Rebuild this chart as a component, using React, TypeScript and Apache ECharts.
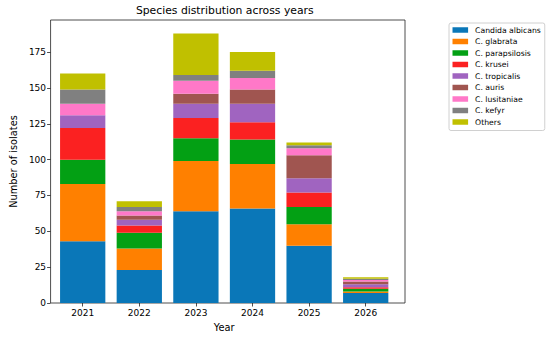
import React, { useEffect, useRef } from "react";
import * as echarts from "echarts";

const years = ["2021", "2022", "2023", "2024", "2025", "2026"];
const speciesNames = [
  "Candida albicans",
  "C. glabrata",
  "C. parapsilosis",
  "C. krusei",
  "C. tropicalis",
  "C. auris",
  "C. lusitaniae",
  "C. kefyr",
  "Others",
];
const albicans = [43, 23, 64, 66, 40, 7];
const glabrata = [40, 15, 35, 31, 15, 1];
const parapsilosis = [17, 11, 16, 17, 12, 2];
const krusei = [22, 5, 14, 12, 10, 1];
const tropicalis = [9, 4, 10, 13, 10, 2];
const auris = [0, 3, 7, 10, 16, 2];
const lusitaniae = [8, 3, 9, 8, 5, 1];
const kefyr = [10, 3, 4, 5, 2, 1];
const others = [11, 4, 29, 13, 2, 1];
const yTicks = [0, 25, 50, 75, 100, 125, 150, 175];
const colors = [
  "#0a77b8",
  "#ff8000",
  "#03a014",
  "#fb2121",
  "#a064c0",
  "#a05550",
  "#ff78c8",
  "#808080",
  "#c0c000",
];

const FONT = "DejaVu Sans";

export default function App() {
  const ref = useRef<HTMLDivElement>(null);
  useEffect(() => {
    if (!ref.current) return;
    const chart = echarts.init(ref.current, undefined, { renderer: "svg" });
    const seriesData = [albicans, glabrata, parapsilosis, krusei, tropicalis, auris, lusitaniae, kefyr, others];
    const totals = years.map((_, i) => seriesData.reduce((s, arr) => s + arr[i], 0));
    const yMax = Math.max(...totals) * 1.05;
    const left0 = 44.5;
    const right0 = 405;
    const band = 56.6;
    const center0 = 82.7;
    const left1 = center0 - band / 2;
    const top = 20;
    const bottom = 303;
    chart.setOption({
      animation: false,
      textStyle: { fontFamily: FONT },
      graphic: [
        {
          type: "text",
          x: (left0 + right0) / 2,
          y: 5,
          style: {
            text: "Species distribution across years",
            textAlign: "center",
            textVerticalAlign: "top",
            fontSize: 10.8,
            fontFamily: FONT,
            fill: "#000",
          },
        },
      ],
      legend: {
        orient: "vertical",
        left: 449,
        top: 23,
        padding: [1.5, 4, 3, 3.5],
        itemWidth: 15.6,
        itemHeight: 5.5,
        itemGap: 0.5,
        icon: "rect",
        borderColor: "#d0d0d0",
        borderWidth: 1,
        borderRadius: 2,
        backgroundColor: "#fff",
        textStyle: { fontSize: 7.7, lineHeight: 11, color: "#000", fontFamily: FONT, padding: [0, 0, 0, 2] },
        data: speciesNames,
      },
      grid: [
        {
          left: left0,
          width: right0 - left0,
          top: top,
          height: bottom - top,
          show: true,
          borderColor: "#222",
          borderWidth: 0.8,
          backgroundColor: "transparent",
        },
        {
          left: left1,
          width: band * years.length,
          top: top,
          height: bottom - top,
        },
      ],
      xAxis: [
        {
          gridIndex: 0,
          type: "value",
          min: 0,
          max: 1,
          axisLine: { show: false },
          axisTick: { show: false },
          axisLabel: { show: false },
          splitLine: { show: false },
        },
        {
          gridIndex: 1,
          type: "category",
          data: years,
          axisLine: { show: false },
          axisTick: { show: true, alignWithLabel: true, length: 3.5, lineStyle: { color: "#222", width: 0.8 } },
          axisLabel: { fontSize: 9, color: "#000", margin: 5.5, fontFamily: FONT },
          name: "Year",
          nameLocation: "middle",
          nameGap: 19,
          nameTextStyle: { fontSize: 9.8, color: "#000", fontFamily: FONT },
        },
      ],
      yAxis: [
        {
          gridIndex: 0,
          type: "value",
          min: 0,
          max: yMax,
          interval: 25,
          axisLine: { show: false },
          axisTick: { show: true, length: 3.5, customValues: yTicks, lineStyle: { color: "#222", width: 0.8 } },
          axisLabel: { fontSize: 9, color: "#000", margin: 4.5, customValues: yTicks, fontFamily: FONT },
          splitLine: { show: false },
          name: "Number of isolates",
          nameLocation: "middle",
          nameGap: 28,
          nameTextStyle: { fontSize: 9.8, color: "#000", fontFamily: FONT },
        },
        {
          gridIndex: 1,
          type: "value",
          min: 0,
          max: yMax,
          show: false,
          splitLine: { show: false },
        },
      ],
      series: seriesData.map((arr, k) => ({
        name: speciesNames[k],
        type: "bar",
        stack: "total",
        xAxisIndex: 1,
        yAxisIndex: 1,
        barCategoryGap: "20%",
        itemStyle: { color: colors[k] },
        data: arr,
      })),
    });
    return () => chart.dispose();
  }, []);
  return (
    <div
      ref={ref}
      style={{ position: "fixed", left: 0, top: 0, width: 550, height: 338, background: "#fff" }}
    />
  );
}
